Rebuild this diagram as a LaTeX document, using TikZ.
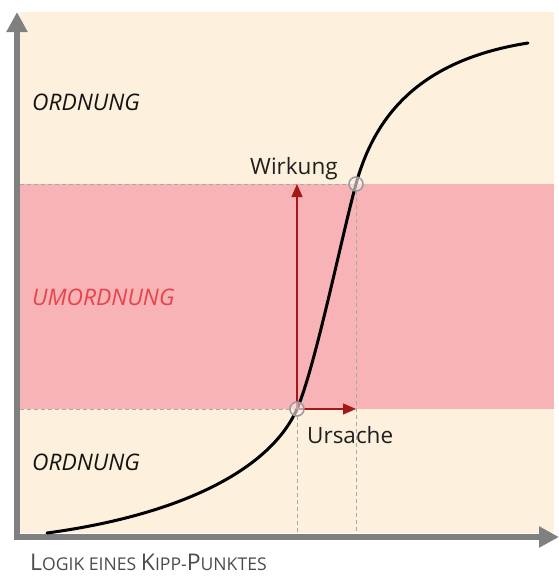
\documentclass[tikz,border=0pt]{standalone}
\usepackage{fontspec}
\setmainfont{Open Sans}
\usetikzlibrary{arrows.meta}
\definecolor{beige}{HTML}{FDF0DC}
\definecolor{pinkband}{HTML}{F7B3B5}
\definecolor{axisgray}{HTML}{808080}
\definecolor{darkred}{HTML}{A51818}
\definecolor{umred}{HTML}{E8434B}
\definecolor{dashgray}{HTML}{A8A8A8}
\tikzset{
  axis/.style={line width=6pt, draw=axisgray, -{Triangle[length=20pt,width=20pt]}},
  guide/.style={draw=dashgray, dashed, dash pattern=on 4pt off 3pt, line width=0.8pt},
  effect/.style={draw=darkred, line width=1.2pt, -{Triangle[length=13pt,width=11pt]}},
  pt/.style={circle, minimum size=14pt, inner sep=0pt, draw=axisgray!80, line width=1.5pt, fill=white!80!pinkband, fill opacity=0.6},
  region/.style={font=\fontsize{22.8}{22.8}\selectfont\itshape, anchor=base west, inner sep=0pt, text=black!92},
  lbl/.style={font=\fontsize{22.5}{22.5}\selectfont, anchor=base west, inner sep=0pt, text=black!88},
}
\begin{document}
\begin{tikzpicture}[x=1pt,y=-1pt]
\useasboundingbox (0,0) rectangle (559,576);
% background
\fill[beige] (20,12) rectangle (554,533);
\fill[pinkband] (20,184) rectangle (554,409);
% key points
\coordinate (c) at (297,409);
\coordinate (e) at (356,184);
\coordinate (cl) at (20,409);
\coordinate (el) at (20,184);
\coordinate (cb) at (297,533);
\coordinate (eb) at (356,533);
\coordinate (ex) at (356,409);
\coordinate (cy) at (297,184);
% guides
\draw[guide] (el) -- (e);
\draw[guide] (cl) -- (c);
\draw[guide] (c) -- (cb);
\draw[guide] (e) -- (eb);
% axes
\coordinate (ytop) at (17,12);
\coordinate (xend) at (559,537);
\draw[axis] (17,540) -- (ytop);
\draw[axis] (14,537) -- (xend);
% curve
\coordinate (s0) at (47,533);
\coordinate (s3) at (528,43);
\draw[line width=3pt, line cap=round] (s0) .. controls (180,515) and (270,470) .. (c)
  .. controls (315,368) and (342,235) .. (e)
  .. controls (375,115) and (420,60) .. (s3);
% arrows
\draw[effect] (c) -- (cy);
\draw[effect] (c) -- (ex);
\node[pt] (pc) at (c) {};
\node[pt] (pe) at (e) {};
% labels
\node[region] (o1) at (32,110) {ORDNUNG};
\node[region, text=umred] (um) at (32,305) {UMORDNUNG};
\node[region] (o2) at (32,470) {ORDNUNG};
\node[lbl] (w) at (250,174) {Wirkung};
\node[lbl] (u) at (307,443) {Ursache};
\node[anchor=base west, text=black!70, inner sep=0pt] (cap) at (30,570) {%
  \fontsize{23}{23}\selectfont L\fontsize{17.6}{17.6}\selectfont OGIK EINES \fontsize{23}{23}\selectfont K\fontsize{17.6}{17.6}\selectfont IPP-\fontsize{23}{23}\selectfont P\fontsize{17.6}{17.6}\selectfont UNKTES};
\end{tikzpicture}
\end{document}
